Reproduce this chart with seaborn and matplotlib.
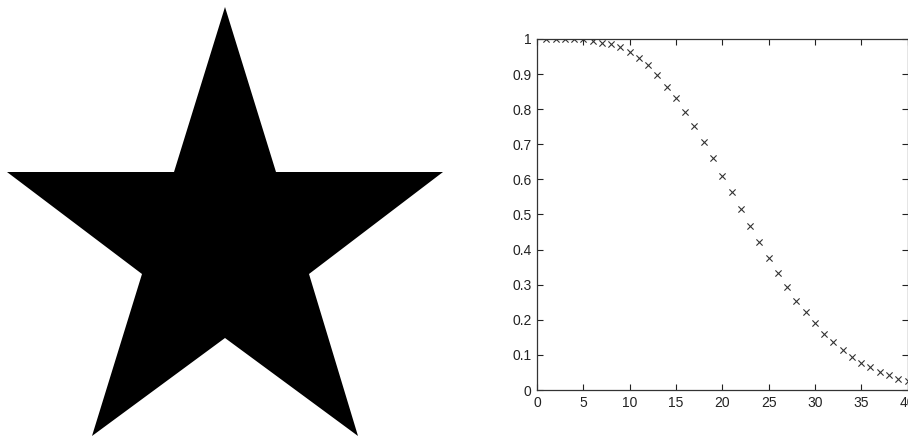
import matplotlib
matplotlib.use("Agg")
import matplotlib.pyplot as plt
from matplotlib.patches import Polygon
import numpy as np
import pandas as pd
import seaborn as sns

# Star outline vertices (pixel units of left panel)
star_x = [225, 276, 443, 309, 358, 225, 92, 142, 7, 174]
star_y = [7, 172, 172, 274, 436, 338, 436, 274, 172, 172]

# Scatter data
x_vals = list(range(1, 41))
y_vals = [1.0, 1.0, 1.0, 1.0, 1.0, 0.995, 0.990, 0.986, 0.976, 0.964,
          0.947, 0.925, 0.898, 0.864, 0.833, 0.793, 0.752, 0.707, 0.660, 0.611,
          0.564, 0.515, 0.468, 0.421, 0.377, 0.333, 0.293, 0.254, 0.222, 0.190,
          0.160, 0.138, 0.114, 0.094, 0.076, 0.065, 0.050, 0.042, 0.032, 0.026]
x_ticks = [0, 5, 10, 15, 20, 25, 30, 35, 40]
y_ticks = [0, 0.1, 0.2, 0.3, 0.4, 0.5, 0.6, 0.7, 0.8, 0.9, 1]
y_ticklabels = ["0", "0.1", "0.2", "0.3", "0.4", "0.5", "0.6", "0.7", "0.8", "0.9", "1"]

sns.set_theme(style="white")
plt.rcParams['font.family'] = ['Liberation Sans Narrow', 'Liberation Sans', 'DejaVu Sans']

fig = plt.figure(figsize=(9.08, 4.36), dpi=100)
fig.patch.set_facecolor("white")

# Left panel: star
ax1 = fig.add_axes([0, 0, 450 / 908, 1])
ax1.add_patch(Polygon(np.column_stack([star_x, star_y]), closed=True,
                      facecolor="black", edgecolor="none"))
ax1.set_xlim(0, 450)
ax1.set_ylim(436, 0)
ax1.axis("off")

# Right panel: scatter
ax2 = fig.add_axes([537 / 908, 46 / 436, 370.5 / 908, 351 / 436])
df = pd.DataFrame({"x": x_vals, "y": y_vals})
sns.scatterplot(data=df, x="x", y="y", ax=ax2, marker="x", color="#333333",
                s=20, linewidth=0.8)
ax2.set_xlim(0, 40)
ax2.set_ylim(0, 1)
ax2.set_xticks(x_ticks)
ax2.set_xticklabels([str(t) for t in x_ticks])
ax2.set_yticks(y_ticks)
ax2.set_yticklabels(y_ticklabels)
ax2.set_xlabel("")
ax2.set_ylabel("")
ax2.tick_params(direction="in", length=4, width=0.8, top=True, right=True,
                bottom=True, left=True, labelsize=10, colors="#222222",
                pad=4)
for sp in ax2.spines.values():
    sp.set_visible(True)
    sp.set_color("#333333")
    sp.set_linewidth(0.9)
ax2.set_facecolor("white")
ax2.grid(False)

fig.savefig("out.png", dpi=100, facecolor="white")
